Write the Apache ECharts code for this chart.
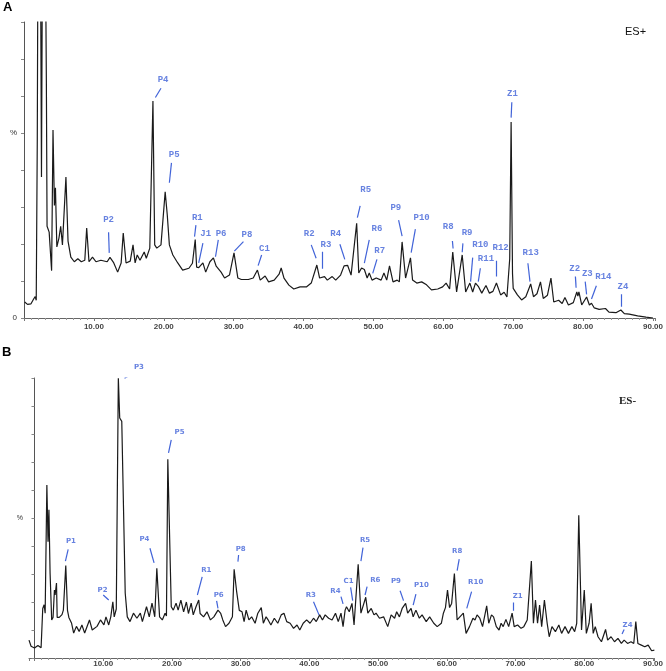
<!DOCTYPE html>
<html>
<head>
<meta charset="utf-8">
<script src="https://cdn.jsdelivr.net/npm/echarts@6/dist/echarts.min.js"></script>
<style>
  html, body { margin: 0; padding: 0; background: #fff; }
  #chart { width: 666px; height: 671px; }
</style>
</head>
<body>
<div id="chart"></div>
<script>
// retention time (min), relative intensity (%)
const esPlus = [
  [0.1, 5.4], [0.5, 4.6], [1.0, 4.8], [1.4, 6.5], [1.6, 7.2], [1.75, 6], [1.9, 60], [2.0, 130],
  [2.35, 130], [2.5, 47.6], [2.65, 130], [3.05, 130], [3.2, 80], [3.3, 31], [3.6, 29], [3.95, 16],
  [4.15, 63.5], [4.35, 38], [4.5, 44], [4.7, 24], [5.0, 27], [5.25, 31], [5.5, 24.7], [5.75, 25],
  [6.0, 47.6], [6.3, 26], [6.7, 20.6], [7.2, 19], [7.7, 20], [8.2, 19], [8.7, 19.5], [8.97, 30.4],
  [9.3, 19], [9.8, 20.6], [10.3, 19], [11, 19.5], [11.9, 19], [12.3, 20.5], [12.8, 18.8], [13.4, 15.5],
  [13.9, 18.6], [14.2, 28.7], [14.6, 18.6], [15.2, 19.2], [15.6, 24.7], [15.9, 18.6], [16.2, 21.3],
  [16.6, 19.5], [17.2, 22.3], [17.5, 20.2], [18.0, 23.6], [18.45, 73.3], [18.7, 24.7], [19.0, 23.6],
  [19.6, 24.7], [20.2, 42.6], [20.5, 34.8], [20.8, 24.7], [21.3, 21.3], [22.0, 18.6], [22.7, 16.2],
  [23.6, 16.8], [24.1, 18.5], [24.5, 26.5], [24.7, 17.2], [25.0, 17], [25.6, 18.6], [26.0, 15.5],
  [26.6, 19], [27.1, 20.3], [27.5, 17.5], [28.2, 15.5], [28.7, 13.5], [29.4, 14.5], [30.05, 22],
  [30.6, 13.5], [31.1, 13], [32.1, 13], [32.8, 13.5], [33.4, 16.2], [33.8, 12.8], [34.5, 14.2],
  [35.0, 12.2], [35.8, 12.8], [36.5, 14.8], [36.8, 16.9], [37.2, 13.5], [37.9, 11.1], [38.6, 9.8],
  [39.5, 10.5], [40.4, 10.5], [41.1, 11.8], [41.9, 17.9], [42.3, 13.5], [43.0, 14], [43.4, 12.8],
  [44.1, 14], [44.6, 12.8], [45.3, 14.5], [45.8, 17.6], [46.3, 17.8], [46.8, 14.5], [47.6, 32],
  [47.9, 15.2], [48.3, 16.9], [48.7, 16.4], [49.1, 13.5], [49.4, 15.2], [49.8, 12.8], [50.4, 13.5],
  [51.1, 12.8], [51.5, 15.2], [51.9, 12.8], [52.3, 17.6], [52.8, 12.2], [53.4, 12.8], [53.7, 12.2],
  [54.1, 25.7], [54.6, 13.5], [55.3, 20.3], [55.6, 12.8], [56.2, 11.8], [56.9, 12.2], [57.6, 11.2],
  [58.3, 9.5], [59.2, 9.8], [59.9, 10.5], [60.4, 11.8], [60.9, 9.8], [61.35, 22.3], [61.9, 8.8],
  [62.7, 21.3], [63.2, 8.8], [63.8, 11.8], [64.2, 8.8], [64.6, 11.8], [65.0, 10.7], [65.5, 8.4],
  [66.1, 11], [66.6, 8.4], [67.1, 9], [67.6, 11.8], [68.2, 7.8], [68.7, 8.7], [69.1, 7.1], [69.5, 20],
  [69.7, 66.2], [69.9, 15], [70.0, 10], [70.6, 7.8], [71.2, 6.1], [71.8, 7.2], [72.5, 11.5],
  [72.9, 7.2], [73.4, 8.2], [73.9, 12.2], [74.3, 6.6], [74.9, 7.7], [75.4, 13.5], [75.8, 5.4],
  [76.5, 6], [77.0, 4.9], [77.4, 6.9], [77.9, 4.4], [78.6, 5.2], [79.1, 8.8], [79.25, 7.4], [79.4, 8.8],
  [79.8, 4.4], [80.5, 7.1], [80.9, 4.4], [81.2, 5], [81.6, 3.4], [82.3, 2.9], [83.2, 3.2], [83.7, 2],
  [84.7, 1.8], [85.4, 2.7], [85.9, 1.5], [86.6, 1.3], [87.8, 0.7], [89.0, 0.3], [90.0, 0]
]

const esMinus = [
  [-0.8, 6.4], [-0.5, 4.2], [0, 3.6], [0.5, 4.5], [0.96, 3.7], [1.2, 17.7], [1.4, 19], [1.55, 16],
  [1.8, 61.8], [1.97, 41.5], [2.1, 52.9], [2.27, 30.2], [2.5, 13.6], [2.7, 14.5], [2.9, 24.3], [3.0, 22.5],
  [3.2, 26.8], [3.3, 14.5], [3.6, 14.5], [4.0, 15.5], [4.2, 17.1], [4.55, 33], [4.8, 17], [5.0, 14.5],
  [5.4, 12.4], [5.7, 8.9], [6.1, 11.3], [6.5, 9.5], [6.9, 11.8], [7.3, 8.9], [8.0, 13.6], [8.4, 10],
  [9.1, 11.3], [9.6, 13.6], [10.1, 11.8], [10.4, 14.7], [10.8, 11.8], [11.1, 14.7], [11.4, 20.1],
  [11.6, 14.7], [11.9, 17.5], [12.2, 99.9], [12.4, 85.7], [12.7, 84.5], [13.2, 23.2], [13.5, 14.7],
  [13.9, 13], [14.4, 16], [14.9, 14.2], [15.4, 16], [15.7, 13], [16.3, 18.3], [16.7, 14.7], [17.1, 19.6],
  [17.5, 14.7], [17.8, 32], [18.2, 14.7], [18.6, 13.6], [19.0, 16], [19.2, 15], [19.4, 71], [19.9, 18.3],
  [20.2, 17.1], [20.6, 19.6], [20.9, 17.1], [21.3, 20.7], [21.7, 16.5], [22.1, 20], [22.4, 15.9],
  [22.8, 19.6], [23.1, 15.4], [23.5, 18.3], [23.9, 20.7], [24.1, 15.9], [24.6, 14.7], [25.1, 16.5],
  [25.6, 13.6], [26.1, 14.7], [26.7, 17.1], [27.1, 15.9], [27.4, 13.6], [27.8, 11.2], [28.3, 12.4],
  [28.8, 14.7], [29.05, 31.7], [29.4, 24], [29.8, 17], [30.2, 16.5], [30.5, 13], [30.8, 17.1],
  [31.2, 13.6], [31.6, 14.7], [32.1, 12.4], [32.5, 16], [33.0, 18], [33.3, 12.4], [33.7, 14.7],
  [34.0, 13.6], [34.4, 11.8], [34.9, 14.2], [35.4, 12.4], [35.9, 15.4], [36.3, 16], [36.7, 13],
  [37.2, 12.4], [37.7, 10.6], [38.2, 11.8], [38.6, 10], [39.1, 12.4], [39.6, 13.6], [40.1, 12.4],
  [40.6, 14.2], [41.0, 13], [41.5, 15.4], [41.9, 13.6], [42.3, 15.4], [42.8, 14.2], [43.3, 13.6],
  [43.8, 16], [44.2, 13], [44.6, 16], [44.9, 11.2], [45.2, 17.1], [45.4, 18.3], [45.8, 16.5],
  [46.2, 19.5], [46.5, 11.8], [47.1, 33.5], [47.5, 16], [48.2, 21.7], [48.5, 16], [49.0, 17.7],
  [49.4, 15.4], [49.7, 16], [50.2, 14.2], [50.8, 14.7], [51.4, 11.2], [51.9, 15.4], [52.4, 14.2],
  [52.7, 16.5], [53.1, 14.7], [53.5, 17.7], [54.0, 19.5], [54.3, 16], [54.8, 17.7], [55.1, 14.7],
  [55.5, 17.1], [56.0, 14.2], [56.4, 15.4], [57.0, 13], [57.5, 14.7], [58.1, 12.4], [58.6, 11.2],
  [59.2, 12.4], [59.5, 16], [59.8, 18], [60.1, 24.3], [60.4, 18], [60.7, 19.5], [61.1, 30.2],
  [61.5, 13.6], [61.9, 14.7], [62.4, 16], [62.8, 8.8], [63.3, 11.2], [63.8, 14.2], [64.1, 13.6],
  [64.4, 15.4], [64.8, 14.2], [65.2, 11.2], [65.8, 18.6], [66.1, 12.4], [66.5, 15.4], [66.8, 14.7],
  [67.2, 11.2], [67.6, 10], [67.9, 12.4], [68.2, 11.2], [68.6, 13.8], [69.0, 11.2], [69.5, 16],
  [69.8, 11.2], [70.3, 11.8], [70.8, 10.6], [71.2, 11.2], [71.7, 13.6], [72.3, 34.6], [72.6, 12.4],
  [72.9, 20.7], [73.2, 12.4], [73.5, 18.9], [73.8, 11.2], [74.2, 20.7], [74.6, 12.4], [74.9, 7.6],
  [75.3, 11.2], [75.8, 9.4], [76.3, 11.8], [76.7, 8.8], [77.2, 11.2], [77.7, 8.8], [78.2, 11.2],
  [78.6, 9.4], [78.9, 12.4], [79.2, 51], [79.6, 10], [80.0, 24.3], [80.3, 8.8], [80.7, 12.4],
  [81.0, 19.5], [81.3, 8.8], [81.6, 11.2], [82.0, 7.6], [82.5, 5.8], [83.1, 10.2], [83.4, 6.4],
  [83.9, 7.6], [84.4, 5.8], [84.9, 7], [85.4, 5.2], [85.8, 6.4], [86.3, 5.2], [86.8, 5.8], [87.2, 5.2],
  [87.5, 13], [87.8, 5.2], [88.3, 4.6], [88.8, 4], [89.3, 4.6], [89.8, 2.6], [90.2, 2.8]
]

// peak tags: name, label (t, %), leader line from (t, %) to (t, %)
const tagsPlus = [
  ['P2', 12.1, 33.1, 12.1, 29, 12.2, 22],
  ['P4', 19.9, 80.6, 19.6, 77.6, 18.8, 74.5],
  ['P5', 21.5, 55, 21.1, 52.4, 20.8, 45.7],
  ['R1', 24.8, 33.8, 24.6, 31.4, 24.4, 27.5],
  ['J1', 26.0, 28.3, 25.6, 25.3, 25.0, 18.6],
  ['P6', 28.2, 28.3, 27.8, 26.4, 27.4, 20.7],
  ['P8', 31.9, 28, 31.4, 25.8, 30.1, 22.6],
  ['C1', 34.4, 23.3, 34.0, 21.3, 33.5, 17.7],
  ['R2', 40.8, 28.3, 41.1, 24.7, 41.8, 20.2],
  ['R3', 43.2, 24.9, 42.7, 22.4, 42.7, 16.6],
  ['R4', 44.6, 28.6, 45.2, 24.9, 45.9, 19.8],
  ['R5', 48.9, 43.5, 48.1, 37.9, 47.7, 33.9],
  ['R6', 50.5, 30.3, 49.4, 26.4, 48.7, 18.5],
  ['R7', 50.9, 22.6, 50.5, 19.8, 49.9, 15.1],
  ['P9', 53.2, 37.1, 53.6, 33.1, 54.1, 27.7],
  ['P10', 56.9, 34, 56.0, 30, 55.4, 22.1],
  ['R8', 60.7, 30.9, 61.3, 26, 61.4, 23.5],
  ['R9', 63.4, 28.9, 62.8, 25.2, 62.7, 22.2],
  ['R10', 65.3, 24.7, 64.2, 20.4, 63.9, 12.3],
  ['R11', 66.1, 20, 65.3, 16.8, 65.0, 12.3],
  ['R12', 68.2, 23.8, 67.6, 19.3, 67.6, 14],
  ['Z1', 69.9, 75.7, 69.8, 72.9, 69.7, 67.7],
  ['R13', 72.5, 22.1, 72.1, 18.5, 72.4, 12.3],
  ['Z2', 78.8, 16.6, 78.9, 14, 79.0, 10.2],
  ['Z3', 80.6, 15.1, 80.3, 12.3, 80.5, 8],
  ['R14', 82.9, 13.8, 81.9, 10.9, 81.2, 6.4],
  ['Z4', 85.7, 10.6, 85.4, 8, 85.4, 3.8]
]

const tagsMinus = [
  ['P1', 5.3, 41.8, 4.9, 38.8, 4.5, 34.6],
  ['P2', 9.9, 24.3, 10.0, 22.5, 10.8, 20.7],
  ['P3', 15.2, 103.8, 14.1, 101.3, 13.1, 99.9],
  ['P4', 16.0, 42.5, 16.8, 39.2, 17.4, 34],
  ['P5', 21.1, 80.8, 19.9, 77.9, 19.5, 73.3],
  ['R1', 25.0, 31.4, 24.4, 29, 23.7, 22.5],
  ['P6', 26.8, 22.3, 26.5, 20.4, 26.7, 17.7],
  ['P8', 30.0, 39, 29.7, 36.8, 29.6, 34.4],
  ['R3', 40.2, 22.5, 40.6, 20.1, 41.4, 15.4],
  ['R4', 43.8, 24, 44.6, 21.9, 44.9, 19.3],
  ['C1', 45.7, 27.5, 46.0, 25.2, 46.3, 20.5],
  ['R5', 48.1, 42.1, 47.8, 39.4, 47.5, 34.6],
  ['R6', 49.6, 27.9, 48.4, 25.5, 48.1, 22.5],
  ['P9', 52.6, 27.5, 53.2, 24, 53.7, 20.5],
  ['P10', 56.3, 26.1, 55.5, 22.8, 55.1, 18.9],
  ['R8', 61.5, 38.3, 61.8, 35.3, 61.5, 31.2],
  ['R10', 64.2, 26.9, 63.6, 23.7, 62.9, 17.7],
  ['Z1', 70.3, 21.9, 69.7, 19.8, 69.7, 16.9],
  ['Z4', 86.3, 11.8, 85.8, 10.2, 85.5, 8.6]
]

const blue = '#4163d8'
let myChart = echarts.init(document.getElementById('chart'))

let xAxisBase = {
  type: 'value',
  axisLine: { lineStyle: { color: '#666', width: 1 } },
  axisTick: { length: 3, lineStyle: { color: '#777' } },
  minorTick: { show: true, splitNumber: 10, length: 2, lineStyle: { color: '#999' } },
  splitLine: { show: false },
  axisLabel: {
    fontSize: 8, color: '#444', fontFamily: 'Liberation Sans', fontWeight: 'bold',
    formatter: function (v) {
      return (v > 0 && Math.abs(v % 10) < 1e-6) ? v.toFixed(2) : ''
    }
  }
}

let tagLabels = (tags) => tags.map(d => ({ name: d[0], value: [d[1], d[2]] }))
let tagLines = (tags) => tags.map(d => ({ coords: [[d[3], d[4]], [d[5], d[6]]] }))

let option = {
  animation: false,
  graphic: [
    { type: 'text', left: 3, top: 1, style: { text: 'A', font: 'bold 13px Liberation Sans', fill: '#000' } },
    { type: 'text', left: 2, top: 346, style: { text: 'B', font: 'bold 13px Liberation Sans', fill: '#000' } },
    { type: 'text', left: 625, top: 26, style: { text: 'ES+', font: '11px Liberation Sans', fill: '#111' } },
    { type: 'text', left: 619, top: 396, style: { text: 'ES-', font: 'bold 11px Liberation Serif', fill: '#222' } }
  ],
  grid: [
    { left: 24, top: 22, width: 640, height: 296 },
    { left: 29, top: 378, width: 634, height: 280 }
  ],
  xAxis: [
    Object.assign({}, xAxisBase, { gridIndex: 0, min: 0, max: 90.3, interval: 10,
      axisLabel: Object.assign({}, xAxisBase.axisLabel, { margin: 5 }) }),
    Object.assign({}, xAxisBase, { gridIndex: 1, min: -0.8, max: 90.2, minInterval: 10, maxInterval: 10, splitNumber: 9,
      axisLabel: Object.assign({}, xAxisBase.axisLabel, { margin: 2 }) })
  ],
  yAxis: [
    {
      gridIndex: 0, type: 'value', min: 0, max: 100, interval: 12.5,
      axisLine: { show: true, lineStyle: { color: '#555' } },
      axisTick: { show: true, length: 3, lineStyle: { color: '#888' } },
      splitLine: { show: false },
      axisLabel: {
        fontSize: 8, color: '#333', margin: 7,
        formatter: function (v) { return v === 0 ? '0' : (v === 62.5 ? '%' : '') }
      }
    },
    {
      gridIndex: 1, type: 'value', min: 0, max: 100, interval: 10,
      axisLine: { show: true, lineStyle: { color: '#555' } },
      axisTick: { show: true, length: 3, lineStyle: { color: '#888' } },
      splitLine: { show: false },
      axisLabel: {
        fontSize: 7, color: '#333', margin: 6,
        formatter: function (v) { return v === 50 ? '%' : '' }
      }
    }
  ],
  series: [
    {
      name: 'ES+', type: 'line', xAxisIndex: 0, yAxisIndex: 0, data: esPlus,
      showSymbol: false, clip: true, lineStyle: { color: '#1a1a1a', width: 1.2 }
    },
    {
      name: 'ES-', type: 'line', xAxisIndex: 1, yAxisIndex: 1, data: esMinus,
      showSymbol: false, clip: true, lineStyle: { color: '#1a1a1a', width: 1.2 }
    },
    {
      type: 'lines', coordinateSystem: 'cartesian2d', xAxisIndex: 0, yAxisIndex: 0,
      data: tagLines(tagsPlus), lineStyle: { color: blue, width: 1.2, opacity: 1 }
    },
    {
      type: 'lines', coordinateSystem: 'cartesian2d', xAxisIndex: 1, yAxisIndex: 1,
      data: tagLines(tagsMinus), lineStyle: { color: blue, width: 1.2, opacity: 1 }
    },
    {
      type: 'scatter', xAxisIndex: 0, yAxisIndex: 0, symbolSize: 0, clip: false,
      data: tagLabels(tagsPlus),
      label: { show: true, position: 'inside', formatter: '{b}', color: blue,
        fontFamily: 'Liberation Mono', fontWeight: 'bold', fontSize: 9 }
    },
    {
      type: 'scatter', xAxisIndex: 1, yAxisIndex: 1, symbolSize: 0, clip: false,
      data: tagLabels(tagsMinus),
      label: { show: true, position: 'inside', formatter: '{b}', color: blue,
        fontFamily: 'DejaVu Sans', fontWeight: 'bold', fontSize: 7 }
    }
  ]
}
myChart.setOption(option)
</script>
</body>
</html>
